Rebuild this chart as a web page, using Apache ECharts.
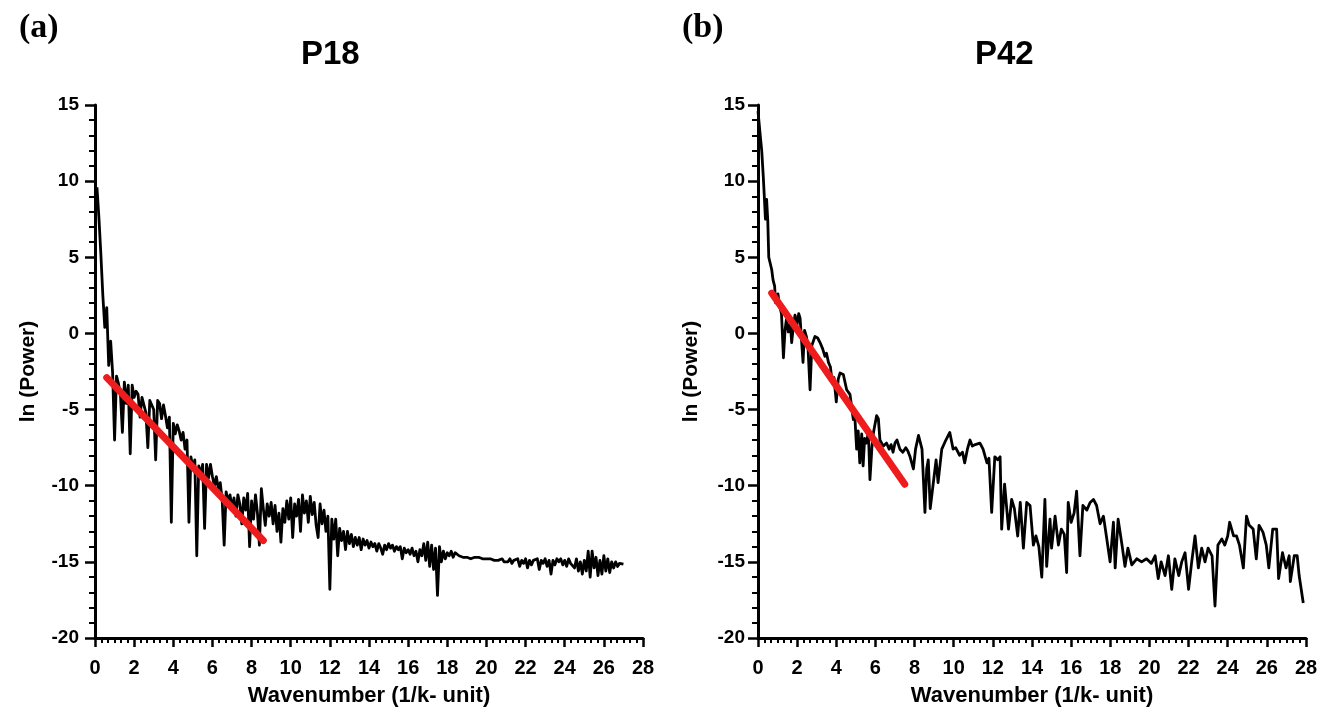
<!DOCTYPE html>
<html><head><meta charset="utf-8">
<script src="https://cdn.jsdelivr.net/npm/echarts@6/dist/echarts.min.js"></script>
<style>html,body{margin:0;padding:0;background:#fff}#c{width:1328px;height:712px}</style>
</head><body><div id="c"></div>
<script>
// ---------- DATA ----------
const panelLabels = ['(a)', '(b)'];
const panelTitles = ['P18', 'P42'];
const xAxisName = 'Wavenumber (1/k- unit)';
const yAxisName = 'ln (Power)';
const xTickRange = [0, 28, 2];
const yTickRange = [-20, 15, 5];

// P18 spectrum: sampled every 0.1 wavenumber starting at 0.1
const p18Start = 0.1, p18Step = 0.1;
const p18Power = [
 9.6, 7.6, 5.2, 2.5, 0.4, 1.7, -2.1, -0.5, -2.6, -7.0,
 -2.8, -3.3, -4.0, -6.5, -3.2, -4.6, -3.4, -7.9, -3.4, -4.2,
 -3.8, -4.0, -5.5, -4.2, -4.3, -5.2, -7.5, -4.4, -4.3, -5.0,
 -8.3, -4.4, -4.6, -5.6, -4.7, -5.4, -6.2, -5.5, -12.4, -5.9,
 -6.6, -6.0, -6.4, -7.0, -6.5, -7.6, -7.0, -12.4, -8.1, -8.8,
 -8.3, -14.6, -8.7, -9.3, -8.6, -12.8, -8.6, -9.5, -8.6, -9.4,
 -10.0, -9.4, -10.2, -9.8, -11.0, -13.9, -10.4, -11.0, -10.6, -11.5,
 -10.8, -12.0, -10.6, -11.2, -12.5, -10.8, -11.6, -10.5, -14.0, -11.0,
 -12.2, -10.6, -11.8, -13.9, -10.2, -11.5, -12.6, -11.2, -12.0, -11.1,
 -12.5, -11.3, -13.0, -11.8, -13.7, -11.5, -12.4, -11.0, -12.2, -10.8,
 -13.4, -11.2, -12.0, -10.9, -13.0, -10.6, -11.8, -11.0, -12.4, -10.7,
 -11.9, -11.1, -12.6, -13.4, -11.2, -12.5, -11.6, -13.0, -12.0, -16.8,
 -12.2, -13.5, -12.2, -14.6, -12.8, -13.6, -13.0, -14.2, -13.0, -13.8,
 -13.2, -14.0, -13.4, -13.9, -13.4, -14.2, -13.5, -13.9, -13.6, -14.1,
 -13.7, -14.0, -13.8, -14.3, -13.8, -14.1, -14.5, -13.9, -14.2, -13.8,
 -14.1, -13.9, -14.3, -14.0, -14.2, -14.0, -14.8, -14.1, -14.4, -14.2,
 -14.5, -14.1, -14.6, -14.3, -15.0, -14.2, -14.6, -13.8, -14.9, -13.7,
 -15.3, -13.9, -15.5, -14.1, -17.2, -14.0, -15.0, -14.3, -14.8, -14.4,
 -14.6, -14.3, -14.7, -14.4, -14.5, -14.6, -14.5, -14.7, -14.6, -14.7,
 -14.6, -14.8, -14.7, -14.7, -14.8, -14.7, -14.8, -14.8, -14.9, -14.8,
 -14.9, -14.8, -14.9, -14.9, -14.8, -14.9, -14.9, -14.8, -15.0, -14.9,
 -15.0, -14.8, -15.1, -14.9, -15.0, -14.8, -15.3, -14.9, -15.1, -14.8,
 -15.4, -14.9, -15.2, -14.9, -15.0, -14.8, -15.5, -14.9, -15.1, -14.8,
 -15.3, -14.9, -15.8, -14.9, -15.2, -14.8, -15.0, -14.8, -15.2, -14.9,
 -15.3, -14.8, -15.1, -15.0, -15.4, -14.8, -15.6, -15.0, -15.8, -14.9,
 -15.6, -14.3, -16.0, -14.3, -15.4, -14.7, -15.9, -14.9, -15.8, -14.6,
 -15.6, -14.8, -15.7, -15.0, -15.4, -15.0, -15.3, -15.1, -15.2, -15.15
];
const p18FitK = [0.6, 8.6];
const p18FitPower = [-2.9, -13.6];

// P42 spectrum: wavenumbers and ln(power)
const p42K = [
 0.0, 0.1, 0.19, 0.27, 0.33, 0.38, 0.44, 0.5, 0.55, 0.7,
 0.77, 0.85, 0.9, 1.02, 1.1, 1.2, 1.3, 1.38, 1.45, 1.55,
 1.65, 1.72, 1.8, 1.89, 2.0, 2.08, 2.15, 2.3, 2.38, 2.47,
 2.55, 2.66, 2.75, 2.91, 3.05, 3.17, 3.3, 3.42, 3.5, 3.6,
 3.7, 3.77, 3.88, 4.0, 4.1, 4.19, 4.36, 4.53, 4.7, 4.87,
 4.95, 5.04, 5.12, 5.2, 5.3, 5.37, 5.45, 5.55, 5.64, 5.72,
 5.82, 5.9, 6.06, 6.15, 6.23, 6.4, 6.57, 6.7, 6.8, 6.9,
 7.0, 7.1, 7.25, 7.4, 7.55, 7.65, 7.77, 7.94, 8.05, 8.2,
 8.38, 8.53, 8.62, 8.7, 8.8, 8.94, 9.1, 9.2, 9.39, 9.6,
 9.8, 9.97, 10.1, 10.3, 10.45, 10.56, 10.7, 10.83, 10.95, 11.1,
 11.34, 11.5, 11.7, 11.8, 11.94, 12.1, 12.25, 12.37, 12.45, 12.6,
 12.8, 12.96, 13.1, 13.27, 13.4, 13.56, 13.73, 13.9, 14.07, 14.2,
 14.35, 14.5, 14.66, 14.75, 14.92, 15.0, 15.18, 15.35, 15.5, 15.65,
 15.77, 15.85, 16.0, 16.15, 16.28, 16.45, 16.6, 16.8, 16.97, 17.14,
 17.3, 17.48, 17.65, 17.8, 17.99, 18.16, 18.25, 18.4, 18.6, 18.75,
 18.9, 19.1, 19.35, 19.6, 19.85, 20.1, 20.29, 20.45, 20.6, 20.8,
 20.97, 21.14, 21.3, 21.5, 21.65, 21.82, 22.0, 22.16, 22.33, 22.5,
 22.67, 22.84, 23.0, 23.2, 23.35, 23.5, 23.7, 23.85, 24.0, 24.1,
 24.3, 24.45, 24.6, 24.8, 24.96, 25.1, 25.3, 25.46, 25.6, 25.8,
 25.97, 26.1, 26.3, 26.5, 26.6, 26.8, 26.98, 27.14, 27.2, 27.4,
 27.55, 27.65, 27.86
];
const p42Power = [
 14.6, 13.2, 12.0, 10.3, 8.8, 7.5, 8.8, 7.4, 5.0, 4.2,
 3.5, 3.1, 2.0, 2.6, 1.8, 1.3, -1.6, 0.2, 0.9, 0.1,
 0.7, -0.6, 0.4, 1.2, 0.6, 1.3, 1.0, -1.9, 0.2, -0.2,
 -0.8, -3.7, -0.8, -0.2, -0.3, -0.6, -1.0, -1.5, -1.3, -1.9,
 -2.2, -3.0, -2.9, -4.5, -3.0, -2.6, -2.7, -3.7, -4.0, -5.65,
 -5.5, -7.6, -6.4, -8.5, -6.6, -8.7, -6.9, -7.2, -6.4, -9.6,
 -7.5, -6.5, -5.4, -5.6, -7.0, -7.4, -7.2, -7.6, -7.3, -7.8,
 -7.2, -7.0, -7.6, -7.8, -7.5, -7.7, -8.1, -8.9, -7.6, -6.7,
 -7.6, -11.75, -8.9, -8.3, -11.5, -10.0, -8.3, -9.8, -7.6, -7.0,
 -6.5, -7.6, -7.5, -8.0, -7.8, -8.5, -7.6, -7.0, -7.4, -7.3,
 -7.2, -7.6, -8.5, -8.2, -11.75, -8.1, -8.3, -8.1, -12.85, -9.9,
 -12.85, -10.9, -11.5, -13.3, -11.1, -14.1, -11.1, -11.3, -13.9, -13.3,
 -14.0, -16.0, -10.9, -15.3, -12.2, -14.1, -12.0, -13.9, -12.85, -13.2,
 -15.7, -11.1, -12.4, -11.8, -10.35, -14.6, -11.3, -11.6, -11.1, -10.9,
 -11.3, -12.5, -12.0, -13.3, -15.0, -12.4, -15.4, -12.2, -13.9, -15.3,
 -14.1, -15.2, -14.8, -15.0, -14.8, -15.1, -14.6, -16.1, -15.0, -15.9,
 -14.6, -16.8, -14.8, -15.9, -15.0, -14.4, -16.8, -15.0, -13.3, -15.4,
 -14.1, -15.0, -14.1, -14.6, -17.9, -13.9, -13.5, -13.9, -13.3, -12.4,
 -13.3, -13.3, -13.9, -15.4, -12.0, -12.6, -12.85, -14.8, -12.6, -13.05,
 -13.9, -15.4, -12.85, -12.85, -16.1, -14.4, -15.4, -14.6, -16.3, -14.6,
 -14.6, -15.9, -17.7
];
const p42FitK = [0.7, 7.5];
const p42FitPower = [2.65, -9.9];

// ---------- CHART ----------
const FONT = "'Liberation Sans', Arial, sans-serif";
const p18Series = p18Power.map((v, i) => [+(p18Start + i * p18Step).toFixed(2), v]);
const p42Series = p42K.map((k, i) => [k, p42Power[i]]);
const fit = (ks, ps) => ks.map((k, i) => [k, ps[i]]);

function xAx(gi) {
  return {
    type: 'value', gridIndex: gi, min: xTickRange[0], max: xTickRange[1], interval: xTickRange[2],
    name: xAxisName, nameLocation: 'middle', nameGap: 47,
    nameTextStyle: { fontSize: 22, fontWeight: 'bold', color: '#000', fontFamily: FONT },
    axisLine: { onZero: false, lineStyle: { color: '#000', width: 3 } },
    axisTick: { show: true, length: 9, lineStyle: { color: '#000', width: 2.5 } },
    minorTick: { show: true, splitNumber: 6, length: 5, lineStyle: { color: '#000', width: 2 } },
    splitLine: { show: false },
    axisLabel: { fontSize: 20, fontWeight: 'bold', color: '#000', fontFamily: FONT, margin: 20 }
  };
}
function yAx(gi, labelMargin) {
  return {
    type: 'value', gridIndex: gi, min: yTickRange[0], max: yTickRange[1], interval: yTickRange[2],
    name: yAxisName, nameLocation: 'middle', nameGap: 56,
    nameTextStyle: { fontSize: 21, fontWeight: 'bold', color: '#000', fontFamily: FONT },
    axisLine: { onZero: false, lineStyle: { color: '#000', width: 3 } },
    axisTick: { show: true, length: 10, lineStyle: { color: '#000', width: 2.5 } },
    minorTick: { show: true, splitNumber: 5, length: 6, lineStyle: { color: '#000', width: 2 } },
    splitLine: { show: false },
    axisLabel: { fontSize: 19, fontWeight: 'bold', color: '#000', fontFamily: FONT, margin: labelMargin }
  };
}
function txt(t, left, top, font) {
  return { type: 'text', left: left, top: top, style: { text: t, font: font, fill: '#000' } };
}

const chart = echarts.init(document.getElementById('c'), null, { renderer: 'canvas' });
chart.setOption({
  backgroundColor: '#fff',
  animation: false,
  grid: [
    { left: 95, width: 548, top: 105, height: 534 },
    { left: 758, width: 548, top: 105, height: 534 }
  ],
  xAxis: [xAx(0), xAx(1)],
  yAxis: [yAx(0, 16), yAx(1, 13)],
  graphic: [
    txt(panelLabels[0], 19, 11, "bold 34px 'Liberation Serif', 'Times New Roman', serif"),
    txt(panelLabels[1], 682, 11, "bold 34px 'Liberation Serif', 'Times New Roman', serif"),
    txt(panelTitles[0], 301, 38, "bold 33px " + FONT),
    txt(panelTitles[1], 975, 38, "bold 33px " + FONT)
  ],
  series: [
    { type: 'line', xAxisIndex: 0, yAxisIndex: 0, data: p18Series, showSymbol: false, symbol: 'none',
      lineStyle: { color: '#000', width: 2.8, join: 'round' }, z: 2 },
    { type: 'line', xAxisIndex: 0, yAxisIndex: 0, data: fit(p18FitK, p18FitPower), showSymbol: false, symbol: 'none',
      lineStyle: { color: '#ee1c1c', width: 7, cap: 'round' }, z: 3 },
    { type: 'line', xAxisIndex: 1, yAxisIndex: 1, data: p42Series, showSymbol: false, symbol: 'none',
      lineStyle: { color: '#000', width: 2.8, join: 'round' }, z: 2 },
    { type: 'line', xAxisIndex: 1, yAxisIndex: 1, data: fit(p42FitK, p42FitPower), showSymbol: false, symbol: 'none',
      lineStyle: { color: '#ee1c1c', width: 7, cap: 'round' }, z: 3 }
  ]
});
</script>
</body></html>
